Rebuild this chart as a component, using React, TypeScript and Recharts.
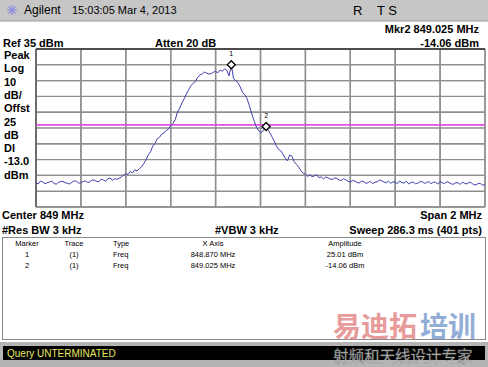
import React from "react";
import { ComposedChart, Line, Scatter, XAxis, YAxis, CartesianGrid, ReferenceLine } from "recharts";

// sweep: 848 MHz start, 0.01 MHz step (201 read-off points of the 401-pt trace)
const START_MHZ = 848;
const STEP_MHZ = 0.01;
const traceDbm = [
  -49.5, -50.4, -48.6, -49.1, -50.3, -49.6, -49.2, -48.5, -50.1, -50.6,
  -49.4, -48.9, -48.8, -49.7, -49.9, -50.5, -49.3, -48.4, -48.7, -49.9,
  -49.6, -48.9, -48.5, -49.4, -49.1, -47.9, -48.0, -48.8, -49.0, -47.4,
  -47.9, -48.6, -47.2, -46.6, -48.1, -47.0, -47.6, -46.8, -46.0, -44.9,
  -43.8, -44.5, -42.6, -43.4, -41.5, -42.2, -40.8, -39.6, -37.5, -35.2,
  -32.0, -30.1, -26.5, -24.8, -21.8, -20.9, -18.8, -18.2, -16.5, -15.7,
  -13.5, -12.2, -9.8, -5.1, -2.5, 0.8, 3.5, 6.6, 9.2, 11.8,
  13.3, 14.4, 17.0, 18.6, 19.2, 20.4, 19.8, 19.1, 19.4, 20.3,
  20.8, 20.0, 21.6, 21.0, 22.4, 21.5, 18.0, 25.01, 16.2, 15.1,
  13.5, 10.9, 7.5, 6.0, 3.5, -0.6, -5.5, -9.8, -13.8, -16.4,
  -18.0, -17.1, -15.0, -15.6, -17.5, -20.3, -23.0, -26.2, -28.5, -29.4,
  -31.5, -34.0, -35.8, -32.1, -32.8, -36.3, -38.0, -39.7, -42.0, -43.6,
  -44.2, -45.6, -44.6, -45.8, -45.3, -44.7, -46.4, -45.9, -47.2, -46.1,
  -46.5, -47.3, -47.6, -46.6, -46.9, -47.9, -48.2, -47.1, -47.8, -48.7,
  -49.2, -48.1, -48.6, -49.5, -49.8, -48.7, -48.9, -50.1, -49.5, -48.8,
  -50.2, -49.3, -49.1, -47.9, -48.4, -49.2, -49.7, -48.6, -50.0, -49.1,
  -49.3, -50.2, -48.5, -49.6, -49.8, -48.7, -50.4, -49.5, -49.2, -50.3,
  -50.0, -49.0, -48.9, -50.0, -49.6, -48.9, -50.3, -49.2, -49.4, -50.5,
  -48.8, -49.7, -50.1, -49.0, -49.5, -50.4, -50.6, -49.6, -49.7, -50.7,
  -49.2, -50.1, -50.4, -49.3, -49.8, -50.9, -51.0, -50.0, -50.2, -51.2,
  -50.8,
];

const markerIds = ["1", "2"];
const markerFreqs = [848.87, 849.025];
const markerDbm = [25.01, -14.06];

const freqTicks = [848, 848.2, 848.4, 848.6, 848.8, 849, 849.2, 849.4, 849.6, 849.8, 850];
const dbTicks = [35, 25, 15, 5, -5, -15, -25, -35, -45, -55, -65];
const displayLine = -13;

const markers = markerFreqs.map((f, i) => ({ id: markerIds[i], freq: f, amp: markerDbm[i] }));
const sweep = traceDbm.map((v, i) => ({ freq: +(START_MHZ + i * STEP_MHZ).toFixed(3), amp: v }));
const trace = sweep
  .concat(markers.filter((m) => !sweep.some((p) => p.freq === m.freq)).map((m) => ({ freq: m.freq, amp: m.amp })))
  .sort((a, b) => a.freq - b.freq);

const tableHead = ["Marker", "Trace", "Type", "X Axis", "Amplitude"];
const tableRows = [
  ["1", "(1)", "Freq", "848.870 MHz", "25.01 dBm"],
  ["2", "(1)", "Freq", "849.025 MHz", "-14.06 dBm"],
];
const leftLabels = ["Peak", "Log", "10", "dB/", "Offst", "25", "dB", "Dl", "-13.0", "dBm"];

const FONT = "'Liberation Sans', Arial, sans-serif";
const CJK = "'Noto Sans CJK SC', sans-serif";
const GRID = "#8f8f8f";

const MarkerShape = (props: any) => {
  const { cx, cy, payload } = props;
  return (
    <g>
      <polygon
        points={`${cx},${cy - 4} ${cx + 4},${cy} ${cx},${cy + 4} ${cx - 4},${cy}`}
        fill="#fff"
        stroke="#000"
        strokeWidth={1.3}
      />
      <text x={cx} y={cy - 9} fontSize={7} fontFamily={FONT} textAnchor="middle" fill="#000">
        {payload.id}
      </text>
    </g>
  );
};

const Backdrop = () => {
  const colX = [27, 74, 113, 213, 345];
  const colAnchor = ["middle", "middle", "start", "middle", "middle"] as const;
  return (
    <svg width={488} height={367} style={{ position: "absolute", left: 0, top: 0 }} fontFamily={FONT}>
      <rect x={0} y={0} width={488} height={367} fill="#fff" />
      {/* title bar */}
      <rect x={0} y={0} width={488} height={21} fill="#c6c6c6" />
      <line x1={0} y1={21} x2={488} y2={21} stroke="#9a9a9a" />
      <g stroke="#8d8de0" strokeWidth={1.2}>
        {[0, 45, 90, 135].map((a) => (
          <line
            key={a}
            x1={12 - 5 * Math.cos((a * Math.PI) / 180)}
            y1={10 - 5 * Math.sin((a * Math.PI) / 180)}
            x2={12 + 5 * Math.cos((a * Math.PI) / 180)}
            y2={10 + 5 * Math.sin((a * Math.PI) / 180)}
          />
        ))}
      </g>
      <text x={24} y={14} fontSize={12}>Agilent</text>
      <text x={72} y={14} fontSize={11}>15:03:05  Mar 4, 2013</text>
      <text x={353} y={15} fontSize={13}>R</text>
      <text x={377} y={15} fontSize={13}>T S</text>

      <g fontWeight="bold" fontSize={11}>
        <text x={479} y={33} textAnchor="end">Mkr2  849.025 MHz</text>
        <text x={3} y={47}>Ref 35 dBm</text>
        <text x={155} y={47}>Atten 20 dB</text>
        <text x={479} y={47} textAnchor="end">-14.06 dBm</text>
        {leftLabels.map((s, i) => (
          <text key={i} x={4} y={59 + i * 13.3}>{s}</text>
        ))}
        <text x={2} y={219}>Center 849 MHz</text>
        <text x={482} y={219} textAnchor="end">Span 2 MHz</text>
        <text x={2} y={234}>#Res BW 3 kHz</text>
        <text x={215} y={234}>#VBW 3 kHz</text>
        <text x={482} y={234} textAnchor="end">Sweep 286.3 ms (401 pts)</text>
      </g>

      {/* marker table */}
      <rect x={2.5} y={237.5} width={483} height={102} fill="#fff" stroke="#8a8a8a" />
      <g fontSize={7.5}>
        {tableHead.map((s, i) => (
          <text key={s} x={colX[i]} y={246} textAnchor={colAnchor[i]}>{s}</text>
        ))}
        {tableRows.map((row, r) =>
          row.map((s, i) => (
            <text key={`${r}-${i}`} x={colX[i]} y={257 + r * 10.5} textAnchor={colAnchor[i]}>{s}</text>
          ))
        )}
      </g>

      {/* watermark */}
      <text x={333} y={337} fontSize={28} fontWeight="bold" fontFamily={CJK} fill="#e07a7a" opacity={0.75}>易迪拓</text>
      <text x={420} y={337} fontSize={28} fontWeight="bold" fontFamily={CJK} fill="#6f93c9" opacity={0.75}>培训</text>

      {/* status bar */}
      <rect x={0} y={342} width={488} height={25} fill="#b4b4b4" />
      <rect x={3} y={346} width={482} height={14} fill="#000" />
      <text x={7} y={357} fontSize={10} fill="#e8e860">Query UNTERMINATED</text>
      <text x={333} y={362} fontSize={15.5} fontFamily={CJK} fill="#d8d8d8" stroke="#777" strokeWidth={0.4} opacity={0.85}>
        射频和天线设计专家
      </text>
    </svg>
  );
};

export default function App() {
  return (
    <div style={{ position: "absolute", left: 0, top: 0, width: 488, height: 367, overflow: "hidden" }}>
      <Backdrop />
      <div style={{ position: "absolute", left: 0, top: 0, width: 488, height: 220 }}>
        <ComposedChart width={488} height={220} data={trace} margin={{ top: 49, left: 36, right: 3, bottom: 13 }}>
          <XAxis dataKey="freq" type="number" domain={[848, 850]} ticks={freqTicks} hide />
          <YAxis type="number" domain={[-65, 35]} ticks={dbTicks} hide />
          <CartesianGrid stroke={GRID} strokeWidth={1.4} strokeOpacity={1} fill="none" />
          {freqTicks.map((t) => (
            <ReferenceLine key={`v${t}`} x={t} stroke={GRID} strokeWidth={1.4} strokeOpacity={1} />
          ))}
          {dbTicks.map((t) => (
            <ReferenceLine key={`h${t}`} y={t} stroke={GRID} strokeWidth={1.4} strokeOpacity={1} />
          ))}
          <ReferenceLine x={848} stroke="#555" strokeWidth={1.3} />
          <ReferenceLine y={35} stroke="#333" strokeWidth={1.3} />
          <ReferenceLine y={displayLine} stroke="#e050e0" strokeWidth={1.6} />
          <Line
            dataKey="amp"
            type="linear"
            stroke="#3f3fb0"
            strokeWidth={1}
            dot={false}
            isAnimationActive={false}
          />
          <Scatter data={markers} dataKey="amp" shape={MarkerShape} isAnimationActive={false} />
        </ComposedChart>
      </div>
    </div>
  );
}
